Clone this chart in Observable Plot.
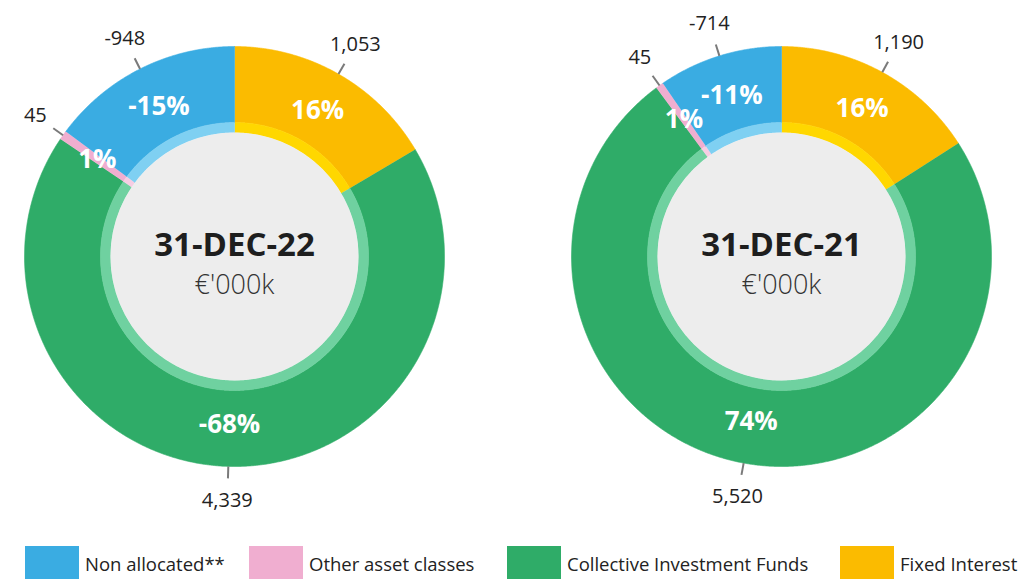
<!DOCTYPE html>
<html>
<head>
<meta charset="utf-8">
<script src="https://cdn.jsdelivr.net/npm/d3@7"></script>
<script src="https://cdn.jsdelivr.net/npm/@observablehq/plot@0.6"></script>
<style>
  html, body { margin: 0; padding: 0; background: #fff; }
  body { width: 1022px; height: 579px; overflow: hidden; font-family: "Open Sans", "Noto Sans", sans-serif; }
  #legend { position: absolute; left: 0; top: 546px; width: 1022px; height: 33px; }
  .item { position: absolute; top: 0; display: flex; align-items: flex-start; }
  .sw { width: 54px; height: 34px; }
  .lab { font-size: 18.5px; color: #222; margin-left: 6px; margin-top: 6px; line-height: 24px; white-space: nowrap; }
</style>
</head>
<body>
<div id="chart"></div>
<div id="legend"></div>
<script>
// ---- data ----
const categories = ["Fixed Interest", "Collective Investment Funds", "Other asset classes", "Non allocated**"];
const dates = ["31-DEC-22", "31-DEC-21"];
const unitLabel = "€'000k";
const values22 = [1053, 4339, 45, -948];
const values21 = [1190, 5520, 45, -714];
const pct22 = ["16%", "-68%", "1%", "-15%"];
const pct21 = ["16%", "74%", "1%", "-11%"];
const mainColors = ["#fbbb00", "#2fac68", "#f0aed0", "#3aace2"];
const lightColors = ["#ffd700", "#6fd1a0", "#f6cde3", "#7fd0f2"];
const legendOrder = ["Non allocated**", "Other asset classes", "Collective Investment Funds", "Fixed Interest"];

// ---- layout ----
const W = 1022, H = 540;
const centersX = [234, 781];
const cy = 256;
const rOuter = 210, rMid = 134, rInner = 124;
const rPct = 168, rTick0 = 210, rTick1 = 222, rLabel = 244;

const fmt = d3.formatLocale({decimal: ".", thousands: ",", grouping: [3], currency: ["", ""], minus: "-"}).format(",");
const charts = [
  {date: dates[0], values: values22, pct: pct22, cx: centersX[0]},
  {date: dates[1], values: values21, pct: pct21, cx: centersX[1]}
];

const pie = d3.pie().sort(null).value(d => Math.abs(d.value));
const polys = [], ticks = [], valueLabels = [], pctLabels = [], centers = [];
const pt = (cx, r, a) => ({x: cx + r * Math.sin(a), y: cy - r * Math.cos(a)});

charts.forEach((c, ci) => {
  const rows = categories.map((cat, i) => ({cat, i, value: c.values[i], pct: c.pct[i]}));
  const arcs = pie(rows);
  centers.push({x: c.cx, y: cy, date: c.date});
  arcs.forEach(a => {
    const i = a.data.i;
    const rings = [
      {r0: rMid, r1: rOuter, color: mainColors[i], id: `o${ci}-${i}`},
      {r0: rInner, r1: rMid, color: lightColors[i], id: `i${ci}-${i}`}
    ];
    rings.forEach(ring => {
      const n = Math.max(4, Math.ceil((a.endAngle - a.startAngle) / 0.005));
      for (let k = 0; k <= n; k++) {
        const t = a.startAngle + (a.endAngle - a.startAngle) * k / n;
        polys.push({...pt(c.cx, ring.r1, t), id: ring.id, color: ring.color});
      }
      for (let k = n; k >= 0; k--) {
        const t = a.startAngle + (a.endAngle - a.startAngle) * k / n;
        polys.push({...pt(c.cx, ring.r0, t), id: ring.id, color: ring.color});
      }
    });
    const mid = (a.startAngle + a.endAngle) / 2;
    const p0 = pt(c.cx, rTick0, mid), p1 = pt(c.cx, rTick1, mid);
    ticks.push({x1: p0.x, y1: p0.y, x2: p1.x, y2: p1.y});
    valueLabels.push({...pt(c.cx, rLabel, mid), text: fmt(a.data.value)});
    pctLabels.push({...pt(c.cx, rPct, mid), text: a.data.pct});
  });
});

const chart = Plot.plot({
  width: W, height: H,
  margin: 0,
  x: {domain: [0, W], range: [0, W], axis: null},
  y: {domain: [0, H], range: [0, H], axis: null},
  color: {type: "identity"},
  style: {fontFamily: "'Open Sans', 'Noto Sans', sans-serif", background: "#fff"},
  marks: [
    Plot.line(polys, {x: "x", y: "y", z: "id", fill: "color", stroke: "color", strokeWidth: 0.6, curve: "linear"}),
    Plot.dot(centers, {x: "x", y: "y", r: rInner, fill: "#ededed", stroke: "none"}),
    Plot.link(ticks, {x1: "x1", y1: "y1", x2: "x2", y2: "y2", stroke: "#7a7a7a", strokeWidth: 2}),
    Plot.text(valueLabels, {x: "x", y: "y", text: "text", fill: "#222", fontSize: 20}),
    Plot.text(pctLabels, {x: "x", y: "y", text: "text", fill: "#fff", fontSize: 26, fontWeight: "bold"}),
    Plot.text(centers, {x: "x", y: d => d.y - 11, text: "date", fill: "#1e1e1e", fontSize: 33, fontWeight: "bold"}),
    Plot.text(centers, {x: "x", y: d => d.y + 29, text: () => unitLabel, fill: "#333", fontSize: 27, fontWeight: 300})
  ]
});
document.getElementById("chart").appendChild(chart);

// ---- legend ----
const legendX = [25, 249, 507, 840];
const legend = document.getElementById("legend");
legendOrder.forEach((name, k) => {
  const i = categories.indexOf(name);
  const item = document.createElement("div");
  item.className = "item";
  item.style.left = legendX[k] + "px";
  item.innerHTML = `<div class="sw" style="background:${mainColors[i]}"></div><div class="lab">${name}</div>`;
  legend.appendChild(item);
});
</script>
</body>
</html>
